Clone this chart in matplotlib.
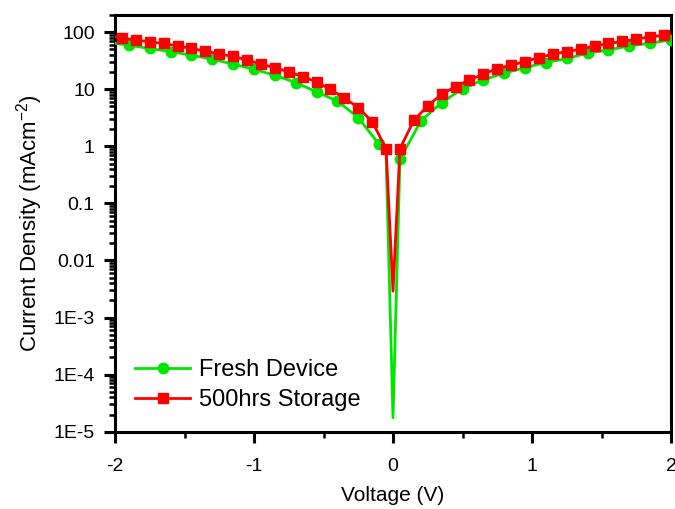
import numpy as np
import matplotlib
matplotlib.use("Agg")
import matplotlib.pyplot as plt
from matplotlib.ticker import FixedLocator, NullFormatter, LogLocator

plt.rcParams['font.family'] = ['Liberation Sans', 'DejaVu Sans']
plt.rcParams['mathtext.default'] = 'regular'

# ---- data ----
# Fresh device: points shown with markers
fresh_v = [-1.9, -1.75, -1.6, -1.45, -1.3, -1.15, -1.0, -0.85, -0.7, -0.55, -0.4,
           -0.25, -0.1, 0.05, 0.2, 0.35, 0.5, 0.65, 0.8, 0.95, 1.1, 1.25, 1.4,
           1.55, 1.7, 1.85, 2.0]
fresh_j = [59.2, 51.8, 45.8, 39.5, 33.6, 27.5, 22.4, 17.6, 13.1, 9.0, 6.2,
           3.19, 1.08, 0.59, 2.78, 5.85, 10.2, 14.7, 19.1, 24.0, 29.4, 34.6, 42.9,
           48.9, 57.5, 64.1, 73.3]
# Fresh device: line-only points (no marker drawn)
fresh_extra_v = [-2.0, -0.05, 0.0]
fresh_extra_j = [64.0, 0.72, 1.75e-5]

# 500 hrs storage: points shown with markers
stored_v = [-1.95, -1.85, -1.75, -1.65, -1.55, -1.45, -1.35, -1.25, -1.15, -1.05,
            -0.95, -0.85, -0.75, -0.65, -0.55, -0.45, -0.35, -0.25, -0.15, -0.05,
            0.05, 0.15, 0.25, 0.35, 0.45, 0.55, 0.65, 0.75, 0.85, 0.95, 1.05,
            1.15, 1.25, 1.35, 1.45, 1.55, 1.65, 1.75, 1.85, 1.95]
stored_j = [78.5, 73.0, 67.6, 63.4, 57.5, 51.8, 46.4, 41.6, 37.5, 32.7,
            27.5, 24.0, 20.1, 16.7, 13.4, 10.0, 7.0, 4.78, 2.71, 0.91,
            0.91, 2.86, 5.1, 8.2, 11.1, 14.6, 18.3, 23.1, 26.4, 30.6, 36.0,
            41.1, 45.8, 50.3, 57.5, 63.4, 68.7, 75.4, 82.9, 88.6]
stored_extra_v = [-2.0, 0.0, 2.0]
stored_extra_j = [84.0, 2.9e-3, 92.0]

labels = ["Fresh Device", "500hrs Storage"]
x_ticks = [-2, -1, 0, 1, 2]
x_minor = [-1.5, -0.5, 0.5, 1.5]
y_ticks = [1e-5, 1e-4, 1e-3, 1e-2, 1e-1, 1, 10, 100]
y_ticklabels = ["1E-5", "1E-4", "1E-3", "0.01", "0.1", "1", "10", "100"]


def merge(v, j, ev, ej):
    pts = [(a, b, True) for a, b in zip(v, j)] + [(a, b, False) for a, b in zip(ev, ej)]
    pts.sort(key=lambda p: p[0])
    xs = [p[0] for p in pts]
    ys = [p[1] for p in pts]
    marks = [i for i, p in enumerate(pts) if p[2]]
    return xs, ys, marks


fig = plt.figure(figsize=(6.75, 5.09), dpi=100)
ax = fig.add_axes([115 / 675, (509 - 431.7) / 509, (671 - 115) / 675, (431.7 - 15) / 509])

fx, fy, fm = merge(fresh_v, fresh_j, fresh_extra_v, fresh_extra_j)
sx, sy, sm = merge(stored_v, stored_j, stored_extra_v, stored_extra_j)

green = '#00e600'
red = '#ff0000'
ax.plot(fx, fy, color=green, lw=2.0, marker='o', ms=7.5, markevery=fm,
        mec=green, mfc=green, label=labels[0], zorder=3)
ax.plot(sx, sy, color=red, lw=2.0, marker='s', ms=7.5, markevery=sm,
        mec=red, mfc=red, label=labels[1], zorder=4)

ax.set_yscale('log')
ax.set_xlim(-2, 2)
ax.set_ylim(1e-5, 200)

ax.xaxis.set_major_locator(FixedLocator(x_ticks))
ax.xaxis.set_minor_locator(FixedLocator(x_minor))
ax.set_xticklabels([str(t) for t in x_ticks])
ax.yaxis.set_major_locator(FixedLocator(y_ticks))
ax.set_yticklabels(y_ticklabels)
ax.yaxis.set_minor_locator(LogLocator(base=10, subs=np.arange(2, 10), numticks=20))
ax.yaxis.set_minor_formatter(NullFormatter())

for s in ax.spines.values():
    s.set_linewidth(2.2)
ax.tick_params(axis='both', which='major', direction='out', length=8, width=2.2,
               labelsize=14, top=False, right=False)
ax.tick_params(axis='both', which='minor', direction='out', length=4.5, width=1.8,
               top=False, right=False)
ax.tick_params(axis='y', which='major', pad=6.5)
ax.tick_params(axis='x', which='major', pad=11)

ax.set_xlabel('Voltage (V)', fontsize=15, labelpad=8)
ax.set_ylabel('Current Density (mAcm$^{-2}$)', fontsize=16, labelpad=6)

leg = ax.legend(loc='center left', bbox_to_anchor=(0.019, 0.112), frameon=False,
                fontsize=17, handlelength=2.35, handletextpad=0.35,
                labelspacing=0.36, borderaxespad=0.0)

fig.savefig('out.png', dpi=100)
